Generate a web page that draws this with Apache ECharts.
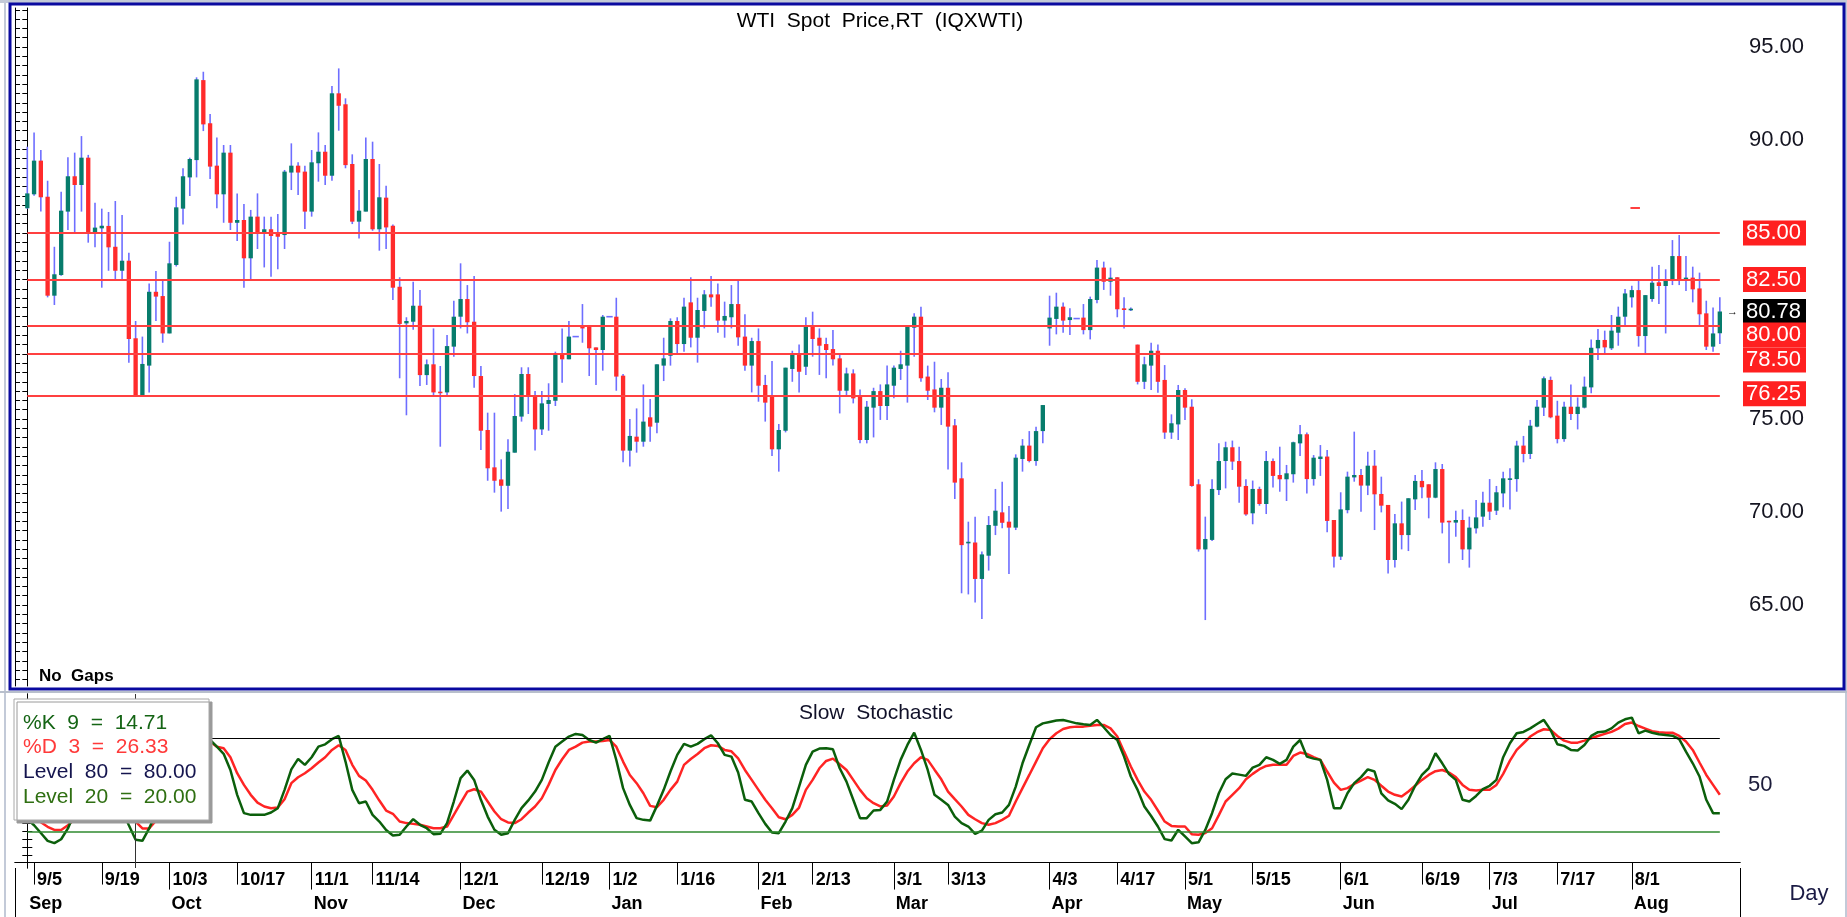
<!DOCTYPE html>
<html>
<head>
<meta charset="utf-8">
<title>WTI Spot Price,RT (IQXWTI)</title>
<script src="https://cdn.jsdelivr.net/npm/echarts@6/dist/echarts.min.js"></script>
<style>
html, body { margin: 0; padding: 0; background: #fff; }
#chart { width: 1847px; height: 917px; }
</style>
</head>
<body>
<div id="chart"></div>
<script>
// one candle per weekday, 2 Sep 2022 .. 18 Aug 2023 (index 0..250)
const openP = [
  86.33, 87.08, 88.89, 86.95, 81.63, 82.74, 86.15, 88.05, 87.58, 89.05,
  85.05, 85.25, 85.38, 84.26, 82.97, 83.51, 79.34, 76.24, 77.87, 81.84,
  81.61, 79.60, 83.28, 86.31, 87.99, 88.92, 93.22, 90.90, 88.62, 87.08,
  89.32, 85.55, 85.70, 83.64, 85.88, 85.05, 85.20, 84.98, 84.89, 88.25,
  88.62, 88.30, 86.15, 88.75, 89.37, 88.08, 92.51, 91.92, 88.71, 85.61,
  86.15, 88.98, 85.20, 86.90, 85.39, 82.11, 80.14, 80.23, 81.09, 77.36,
  77.94, 76.47, 76.43, 78.89, 80.50, 81.45, 80.23, 77.31, 74.41, 72.40,
  71.75, 71.41, 73.19, 75.13, 77.42, 76.29, 74.44, 75.81, 75.98, 78.44,
  78.21, 79.43, 79.96, 79.96, 78.85, 78.71, 80.50, 80.50, 77.33, 73.30,
  74.05, 73.78, 75.09, 74.80, 77.87, 78.40, 80.27, 79.03, 81.27, 79.37,
  80.81, 81.70, 81.70, 80.29, 80.47, 81.18, 79.43, 77.87, 79.19, 76.83,
  76.20, 73.37, 74.37, 77.69, 78.48, 77.81, 79.96, 79.37, 79.03, 78.76,
  78.26, 76.52, 77.45, 76.20, 73.87, 75.61, 76.50, 75.70, 76.79, 77.69,
  77.87, 79.91, 80.50, 77.28, 76.59, 75.61, 76.68, 74.66, 71.81, 68.36,
  68.36, 66.40, 67.65, 69.26, 69.98, 69.48, 69.16, 72.85, 73.57, 72.74,
  74.35, 79.87, 80.38, 81.04, 80.32, 80.40, 80.45, 79.78, 81.40, 83.14,
  82.38, 82.62, 80.95, 80.88, 79.00, 77.00, 77.87, 78.67, 77.10, 74.27,
  74.71, 76.56, 75.66, 71.49, 67.99, 68.50, 71.18, 72.74, 73.48, 72.74,
  71.40, 69.93, 71.24, 70.43, 72.74, 71.99, 71.76, 72.03, 73.69, 74.18,
  71.77, 72.85, 72.98, 69.57, 67.60, 70.10, 71.86, 71.99, 71.42, 72.49,
  70.97, 70.38, 67.42, 69.39, 68.76, 70.68, 71.67, 71.49, 70.77, 72.31,
  69.53, 69.43, 69.57, 67.99, 69.12, 69.75, 70.50, 70.07, 71.00, 71.76,
  71.77, 73.57, 73.12, 74.59, 75.61, 77.10, 75.18, 73.92, 75.66, 75.27,
  75.61, 76.70, 78.80, 79.25, 78.80, 79.64, 80.50, 81.54, 81.93, 79.46,
  81.45, 82.35, 82.15, 82.51, 83.76, 82.53, 82.60, 82.02, 80.68, 78.89,
  79.61
];
const closeP = [
  87.13, 88.89, 86.92, 81.63, 82.78, 86.20, 88.05, 87.58, 89.05, 85.02,
  85.29, 85.39, 84.23, 82.97, 83.51, 79.30, 76.24, 77.96, 81.84, 81.58,
  79.60, 83.37, 86.38, 88.05, 88.98, 93.26, 90.84, 88.57, 87.08, 89.32,
  85.55, 85.70, 83.64, 85.88, 85.02, 85.20, 84.84, 84.80, 88.30, 88.62,
  88.25, 86.15, 88.80, 89.37, 88.08, 92.51, 91.84, 88.65, 85.61, 86.20,
  88.98, 85.20, 86.92, 85.30, 82.06, 80.11, 80.27, 81.09, 77.36, 77.94,
  76.43, 76.40, 78.92, 80.50, 81.45, 80.20, 77.31, 74.37, 72.35, 71.68,
  71.41, 73.24, 75.16, 77.42, 76.29, 74.44, 75.84, 76.02, 78.44, 78.21,
  79.43, 79.43, 79.87, 78.80, 78.71, 80.50, 80.50, 77.28, 73.30, 74.09,
  73.78, 74.86, 74.59, 77.94, 78.26, 80.27, 79.03, 81.04, 79.37, 80.86,
  81.70, 81.54, 80.29, 80.54, 81.18, 79.39, 77.87, 79.19, 76.79, 75.88,
  73.37, 74.41, 77.76, 78.48, 77.54, 79.96, 79.30, 78.94, 78.71, 78.21,
  76.52, 77.45, 76.11, 73.87, 75.66, 76.50, 75.70, 76.86, 77.76, 77.94,
  79.96, 80.50, 77.19, 76.52, 75.61, 76.68, 74.59, 71.58, 68.22, 68.40,
  66.40, 67.72, 69.30, 70.07, 69.42, 69.16, 72.92, 73.57, 72.74, 74.35,
  75.75, 80.45, 81.04, 80.29, 80.47, 80.40, 79.78, 81.45, 83.14, 82.38,
  82.60, 80.90, 80.86, 80.93, 77.00, 77.94, 78.67, 77.00, 74.27, 74.77,
  76.56, 75.61, 71.40, 67.99, 68.55, 71.24, 72.74, 73.48, 72.71, 71.36,
  69.87, 71.24, 70.43, 72.74, 71.94, 71.76, 72.08, 73.75, 74.18, 71.77,
  72.92, 72.98, 69.52, 67.60, 70.14, 71.90, 71.99, 71.42, 72.49, 70.95,
  70.34, 67.42, 69.39, 68.76, 70.74, 71.67, 71.33, 70.77, 72.31, 69.43,
  69.45, 69.57, 67.99, 69.16, 69.71, 70.50, 70.02, 71.06, 71.81, 71.81,
  73.57, 73.12, 74.64, 75.66, 77.19, 75.09, 73.92, 75.66, 75.27, 75.66,
  76.74, 78.83, 79.25, 78.85, 79.75, 80.50, 81.75, 81.93, 79.46, 81.66,
  82.33, 82.15, 82.51, 83.76, 82.51, 82.60, 81.97, 80.63, 78.89, 79.60,
  80.78
];
const lowP = [
  86.30, 87.00, 86.15, 81.54, 81.13, 82.70, 85.16, 85.02, 86.15, 84.48,
  84.23, 82.06, 82.97, 82.51, 82.44, 78.03, 76.20, 76.20, 76.43, 80.27,
  79.10, 79.60, 83.20, 85.46, 86.99, 87.99, 90.48, 87.90, 86.33, 85.55,
  85.16, 84.57, 82.06, 82.51, 84.14, 83.15, 82.65, 83.05, 84.14, 87.31,
  87.04, 85.21, 85.88, 87.76, 87.58, 87.81, 90.50, 88.48, 85.48, 84.71,
  86.15, 85.12, 84.05, 84.14, 81.40, 77.19, 75.20, 79.80, 76.77, 76.83,
  76.29, 73.51, 76.29, 78.35, 79.87, 79.60, 76.68, 73.33, 71.68, 71.04,
  70.02, 70.16, 73.19, 74.86, 75.27, 73.30, 74.14, 74.37, 75.70, 76.95,
  78.21, 79.43, 79.10, 77.31, 76.83, 77.60, 80.50, 76.52, 72.67, 72.44,
  73.19, 73.51, 73.78, 74.23, 77.04, 77.87, 78.50, 78.62, 78.85, 78.03,
  79.87, 81.04, 79.64, 79.37, 79.87, 78.94, 77.60, 76.43, 75.93, 74.86,
  73.01, 72.17, 74.28, 77.00, 76.43, 77.37, 78.35, 77.37, 77.19, 77.87,
  75.30, 76.24, 75.84, 73.69, 73.69, 74.01, 74.95, 74.95, 76.11, 77.10,
  75.88, 78.35, 77.00, 76.02, 75.36, 74.68, 72.29, 70.70, 65.63, 65.57,
  65.14, 64.25, 66.85, 68.76, 69.12, 66.67, 69.03, 72.17, 72.67, 72.49,
  73.69, 78.94, 79.55, 79.64, 79.52, 80.40, 79.55, 79.28, 81.22, 81.94,
  81.63, 80.47, 79.87, 80.80, 76.86, 76.61, 76.56, 76.41, 73.93, 73.93,
  73.87, 74.95, 71.36, 67.87, 64.19, 68.44, 70.91, 71.27, 72.26, 70.50,
  69.80, 69.34, 70.34, 69.89, 71.32, 71.09, 70.59, 71.58, 73.01, 71.00,
  71.42, 71.94, 68.91, 67.01, 67.42, 69.93, 71.63, 70.02, 70.91, 69.03,
  69.98, 66.70, 67.01, 67.99, 67.90, 70.11, 70.74, 69.66, 70.74, 68.85,
  67.24, 68.67, 67.42, 67.01, 68.85, 69.21, 69.57, 69.84, 70.25, 70.14,
  71.09, 72.67, 72.85, 74.55, 75.16, 75.04, 73.69, 73.78, 74.95, 74.44,
  75.57, 76.38, 78.17, 78.49, 78.71, 78.94, 80.02, 80.99, 78.89, 78.49,
  81.31, 81.18, 79.60, 82.20, 82.20, 81.88, 81.27, 80.02, 78.71, 78.62,
  79.03
];
const highP = [
  89.64, 90.41, 89.46, 87.81, 84.26, 87.22, 89.07, 89.32, 90.21, 89.20,
  86.63, 86.31, 86.13, 86.72, 85.97, 83.94, 80.27, 79.43, 82.29, 82.96,
  82.51, 84.53, 86.95, 88.48, 89.05, 93.37, 93.67, 91.40, 90.14, 89.73,
  89.73, 87.13, 86.56, 86.24, 87.13, 85.88, 85.88, 86.02, 88.39, 89.82,
  88.80, 88.62, 89.46, 90.41, 89.73, 92.90, 93.85, 92.24, 89.23, 87.31,
  90.14, 89.91, 88.71, 87.54, 85.46, 82.62, 80.47, 82.38, 81.93, 78.20,
  79.87, 77.85, 79.51, 81.36, 83.37, 82.20, 82.69, 77.85, 75.34, 75.34,
  72.83, 73.91, 76.34, 77.78, 77.78, 76.50, 76.50, 76.92, 78.62, 79.87,
  80.27, 79.43, 81.18, 79.96, 78.85, 80.59, 80.50, 81.52, 77.42, 75.00,
  75.57, 76.86, 76.07, 77.94, 79.37, 80.41, 80.47, 81.52, 82.62, 81.52,
  81.93, 82.69, 82.29, 81.31, 82.20, 82.47, 80.63, 79.37, 79.87, 77.37,
  78.12, 74.73, 77.76, 78.67, 79.01, 80.47, 80.77, 79.87, 79.37, 79.78,
  78.44, 77.76, 77.67, 76.59, 75.97, 76.68, 76.86, 77.87, 77.87, 78.67,
  79.96, 80.68, 81.04, 77.87, 78.08, 77.15, 77.51, 75.00, 72.67, 69.48,
  69.75, 67.87, 69.78, 71.24, 71.63, 70.32, 73.10, 73.92, 74.35, 74.59,
  75.75, 81.63, 81.79, 81.27, 80.95, 80.40, 81.18, 81.58, 83.55, 83.46,
  83.14, 82.62, 81.54, 81.00, 79.00, 78.35, 79.10, 79.01, 77.90, 75.25,
  76.83, 76.65, 76.06, 71.76, 69.75, 71.76, 73.69, 73.78, 73.84, 73.51,
  71.76, 71.69, 71.36, 73.28, 72.88, 73.51, 72.53, 73.78, 74.68, 74.27,
  73.06, 73.60, 73.33, 69.57, 71.06, 72.17, 74.32, 72.31, 73.24, 73.33,
  71.90, 70.38, 69.89, 70.56, 70.74, 71.99, 72.26, 71.49, 72.67, 72.58,
  69.53, 70.07, 70.14, 69.75, 70.64, 71.09, 71.77, 71.40, 72.17, 72.35,
  73.83, 74.09, 74.95, 76.02, 77.28, 77.28, 75.98, 75.93, 76.86, 76.16,
  77.28, 79.28, 79.84, 79.75, 80.59, 81.04, 81.99, 82.17, 82.47, 81.66,
  83.19, 83.28, 83.05, 84.62, 84.89, 83.76, 83.19, 82.87, 81.36, 81.00,
  81.54
];

// slow stochastic
const stochK = [
  28, 24, 19, 14, 12.5, 15, 22, 32, 42, 50,
  55, 52, 45, 40, 34, 24, 14.71, 14, 22, 32,
  46, 58, 68, 76, 80, 83, 82, 78.9, 74.6, 70,
  59.6, 43.6, 31.8, 30.7, 30.7, 30.7, 32.2, 35, 46.8, 60,
  66.7, 62.9, 67.8, 74.6, 76.1, 79.4, 81.5, 65, 46.8, 38.2,
  39.3, 30.7, 26.4, 21, 17.4, 17.9, 23.2, 27.9, 24.3, 22.1,
  18.3, 18.5, 25.4, 39.3, 54.3, 59.2, 53.2, 40.4, 29.6, 21.1,
  17.9, 18.9, 27.5, 35, 40, 45.7, 53.2, 64.4, 74.6, 77.9,
  81.1, 82.8, 82.1, 78.9, 77.2, 79.5, 81.5, 66, 47.9, 37.1,
  28.6, 27.5, 27, 36.5, 46.8, 58.6, 69.3, 76.4, 74.6, 76.4,
  79.4, 81.9, 76.8, 69.3, 68.2, 58, 40.4, 39.3, 31.8, 24.9,
  19.4, 18.9, 26.4, 35, 48.9, 62.9, 71.4, 73.4, 73.6, 72.9,
  60.7, 52.1, 40.4, 28.6, 28.6, 33.5, 33.9, 39.3, 53.2, 66.1,
  75.7, 83.6, 72.5, 59.6, 43.6, 40.4, 37.1, 29.6, 25.4, 23.2,
  18.5, 20.6, 27.5, 31.1, 32.2, 37.1, 48.9, 63.9, 75.7, 87.1,
  89.6, 90.5, 91.4, 91.8, 90.7, 89.6, 89, 88.6, 91.8, 87.1,
  82.1, 78.9, 68.2, 55.4, 46.8, 36.1, 30, 23.2, 15.1, 14.2,
  21.1, 16.8, 12.5, 13, 21, 31.8, 44.6, 53.6, 57.3, 56.6,
  55.8, 61.1, 62.9, 67.8, 66.1, 63.5, 66.1, 74.6, 78.9, 68.2,
  66.9, 66.1, 53.2, 35, 35, 44.6, 51.1, 55, 60, 58.6,
  44.6, 40, 37.8, 34.4, 40.4, 49.4, 56.4, 60.7, 70.4, 63.9,
  56.9, 53.2, 40.4, 39.3, 42.9, 47.2, 49.4, 53.2, 67.8, 76.8,
  83.2, 84.1, 86.4, 89.2, 91.8, 85.4, 76.1, 75.1, 72.5, 72.1,
  75.7, 81.5, 83.9, 84.3, 86.4, 90.1, 92.2, 93.3, 83.2, 84.9,
  83.6, 82.6, 82.1, 81.7, 79.4, 71.4, 63.9, 55.4, 40.4, 31.8,
  31.8
];
const stochD = [
  32, 29, 26, 23, 21, 21, 24, 28, 35, 42,
  49, 52, 50, 46, 40, 32, 26.33, 22, 22, 27,
  35, 46, 58, 68, 75, 80, 82, 77.9, 74.6, 73.6,
  67.8, 57.5, 50, 43.6, 38.6, 36.1, 35, 35.4, 40.8, 51.1,
  54.9, 57.5, 60.7, 64.4, 67.8, 72.5, 75.5, 72.5, 62.9, 55.8,
  52.8, 46.8, 39.9, 33.5, 31.4, 26.4, 25.4, 24.9, 24.3, 23.2,
  22.1, 22.1, 23.2, 30.7, 38.2, 45.7, 47.2, 45.7, 39.3, 32.9,
  27.9, 25.8, 25.4, 27.9, 32.2, 36.1, 41.4, 50, 59.6, 66.5,
  72.5, 74.6, 77.2, 77.9, 77.9, 78.3, 78.9, 74.6, 65, 56.4,
  51.1, 44.6, 36.5, 35.6, 40.4, 46.8, 52.1, 62.9, 66.7, 69.9,
  73.6, 75.5, 75.1, 72.5, 71.6, 67.1, 59.6, 53.2, 46.8, 40.4,
  35, 29.2, 27.9, 30.7, 35.4, 46.8, 53.2, 60.7, 65.4, 66.9,
  63.3, 59.6, 53.2, 46.8, 41.4, 38.2, 36.1, 36.7, 42.5, 51.1,
  58.6, 63.9, 67.8, 66.1, 59.8, 53.6, 45.7, 40.8, 36.1, 30.7,
  27.9, 25.4, 24.3, 25.4, 27.5, 30.1, 39.3, 47.9, 56.4, 65,
  73.6, 79.4, 83.2, 86, 87.1, 87.5, 87.5, 88.1, 88.6, 88.6,
  86.4, 81.1, 71.4, 61.8, 53.2, 45.7, 40.4, 33.5, 26.4, 23.6,
  23.2, 23.2, 18.3, 17.9, 19, 22.1, 30.5, 39.3, 43.6, 47.9,
  53.6, 57.1, 60.1, 62.2, 62.9, 62.9, 62.9, 68.6, 70.8, 69.9,
  67.8, 66.1, 58.6, 51.5, 46.8, 47.9, 50.6, 52.8, 55, 53.2,
  49.4, 45.7, 43.6, 42.5, 45.7, 49.4, 53.2, 56.4, 58.8, 59.6,
  57.9, 55, 50, 46.8, 46.4, 46.8, 46.8, 50, 57.1, 65.6,
  72.5, 76.8, 81.1, 83.9, 85.8, 85.4, 81.5, 78.5, 77.2, 77.2,
  78.5, 80, 81.5, 82.8, 84.1, 86.2, 89.2, 90.1, 87.9, 86.2,
  84.5, 83.9, 83.6, 83.6, 81.5, 77.9, 72.5, 64.4, 56.4, 50,
  43.6
];

// price levels drawn across the chart
const priceLevels = [85, 82.5, 80, 78.5, 76.25];
const lastPrice = 80.78;
const alertLevel = 86.36;
const alertSpan = [236.8, 238.2];
const stochLevels = [80, 20];
const cursorIndex = 16;

// x axis labels (candle index -> text)
const dateTicks = [1, 11, 21, 31, 42, 51, 64, 76, 86, 96, 108, 116, 128, 136, 151, 161, 171, 181, 194, 206, 216, 226, 237];
const dateLabels = ['9/5', '9/19', '10/3', '10/17', '11/1', '11/14', '12/1', '12/19', '1/2', '1/16', '2/1', '2/13', '3/1', '3/13', '4/3', '4/17', '5/1', '5/15', '6/1', '6/19', '7/3', '7/17', '8/1'];
const monthTicks = [0, 21, 42, 64, 86, 108, 128, 151, 171, 194, 216, 237];
const monthLabels = ['Sep', 'Oct', 'Nov', 'Dec', 'Jan', 'Feb', 'Mar', 'Apr', 'May', 'Jun', 'Jul', 'Aug'];
const priceTicks = [65, 70, 75, 90, 95];

const FONT = "'Liberation Sans', Arial, sans-serif";
const UP = '#077c6c', DOWN = '#ff2b2b', WICK = '#6e6eff';
const X_MIN = -1.817, X_MAX = 252.98;

var n = Math.min(openP.length, closeP.length, lowP.length, highP.length);
var candles = [];
for (var i = 0; i < n; i++) candles.push([i, openP[i], closeP[i], lowP[i], highP[i]]);
var kData = stochK.map(function (v, i) { return [i, v]; });
var dData = stochD.map(function (v, i) { return [i, v]; });

var minorPrice = [];
for (var t = 61; t <= 97; t += 0.5) minorPrice.push(t);
var stochTicks = [];
for (var s = 0; s <= 105; s += 5) stochTicks.push(s);

function drawCandle(params, api) {
  var i = api.value(0), o = api.value(1), c = api.value(2), l = api.value(3), h = api.value(4);
  var pO = api.coord([i, o]), pC = api.coord([i, c]);
  var yL = api.coord([i, l])[1], yH = api.coord([i, h])[1];
  var x = pO[0];
  var bw = api.size([1, 0])[0] * 0.64;
  if (h === l) {
    return { type: 'rect', shape: { x: x - bw / 2 - 1, y: pO[1] - 0.8, width: bw + 2, height: 1.6 }, style: { fill: WICK } };
  }
  var top = Math.min(pO[1], pC[1]);
  var hgt = Math.max(Math.abs(pO[1] - pC[1]), 1.6);
  return {
    type: 'group',
    children: [
      { type: 'line', shape: { x1: x, y1: yH, x2: x, y2: yL }, style: { stroke: WICK, lineWidth: 1.6 } },
      { type: 'rect', shape: { x: x - bw / 2, y: top, width: bw, height: hgt }, style: { fill: c >= o ? UP : DOWN } }
    ]
  };
}

var levelLines = priceLevels.map(function (v) {
  return [{ coord: [0, v] }, { coord: [n - 1, v] }];
});
levelLines.push([{ coord: [alertSpan[0], alertLevel] }, { coord: [alertSpan[1], alertLevel] }]);

var chart = echarts.init(document.getElementById('chart'));
chart.setOption({
  animation: false,
  backgroundColor: '#ffffff',
  textStyle: { fontFamily: FONT },
  grid: [
    { left: 15, right: 107, top: 8, height: 678 },
    { left: 15, right: 107, top: 694, height: 174 }
  ],
  xAxis: [
    { type: 'value', gridIndex: 0, min: X_MIN, max: X_MAX, show: false },
    {
      type: 'value', gridIndex: 1, min: X_MIN, max: X_MAX, position: 'bottom',
      splitLine: { show: false },
      axisLine: { show: true, lineStyle: { color: '#000', width: 1 } },
      axisTick: { show: true, customValues: dateTicks, length: 22, lineStyle: { color: '#000', width: 1 } },
      axisLabel: {
        customValues: dateTicks, margin: 3, align: 'left', padding: [0, 0, 0, 3],
        fontSize: 18, fontWeight: 'bold', color: '#000', fontFamily: FONT,
        formatter: function (v) { var k = dateTicks.indexOf(Math.round(v)); return k >= 0 ? dateLabels[k] : ''; }
      }
    },
    {
      type: 'value', gridIndex: 1, min: X_MIN, max: X_MAX, position: 'bottom', offset: 22,
      splitLine: { show: false },
      axisLine: { show: true, lineStyle: { color: '#000', width: 1 } },
      axisTick: { show: true, customValues: monthTicks.slice(1), length: 27, lineStyle: { color: '#000', width: 1 } },
      axisLabel: {
        customValues: monthTicks, margin: 5, align: 'left', padding: [0, 0, 0, 2],
        fontSize: 18, fontWeight: 'bold', color: '#000', fontFamily: FONT,
        formatter: function (v) { var k = monthTicks.indexOf(Math.round(v)); return k >= 0 ? monthLabels[k] : ''; }
      }
    }
  ],
  yAxis: [
    {
      type: 'value', gridIndex: 0, position: 'right', min: 60.645, max: 97.097,
      splitLine: { show: false },
      axisLine: { show: true, lineStyle: { color: '#000', width: 1 } },
      axisTick: { show: true, inside: true, length: 5, customValues: minorPrice, lineStyle: { color: '#000' } },
      axisLabel: {
        customValues: priceTicks, margin: 9, fontSize: 22, color: '#141420', fontFamily: FONT,
        formatter: function (v) { return v.toFixed(2); }
      }
    },
    {
      type: 'value', gridIndex: 0, position: 'left', min: 60.645, max: 97.097,
      splitLine: { show: false },
      axisLine: { show: true, lineStyle: { color: '#000', width: 1 } },
      axisTick: { show: true, inside: true, length: 5, customValues: minorPrice, lineStyle: { color: '#000' } },
      axisLabel: { show: false }
    },
    {
      type: 'value', gridIndex: 1, position: 'right', min: -3.5, max: 108.5,
      splitLine: { show: false },
      axisLine: { show: true, lineStyle: { color: '#000', width: 1 } },
      axisTick: { show: true, inside: true, length: 5, customValues: stochTicks, lineStyle: { color: '#000' } },
      axisLabel: { customValues: [50], margin: 8, fontSize: 22, color: '#1c1c3a', fontFamily: FONT }
    },
    {
      type: 'value', gridIndex: 1, position: 'left', min: -3.5, max: 108.5,
      splitLine: { show: false },
      axisLine: { show: true, lineStyle: { color: '#000', width: 1 } },
      axisTick: { show: true, inside: true, length: 5, customValues: stochTicks, lineStyle: { color: '#000' } },
      axisLabel: { show: false }
    }
  ],
  series: [
    {
      name: 'WTI', type: 'custom', xAxisIndex: 0, yAxisIndex: 0,
      renderItem: drawCandle, clip: true,
      dimensions: ['i', 'open', 'close', 'low', 'high'],
      encode: { x: 0, y: [1, 2, 3, 4] },
      data: candles,
      markLine: {
        silent: true, symbol: 'none', label: { show: false },
        lineStyle: { color: '#ff4040', width: 2, type: 'solid' },
        data: levelLines
      },
      z: 3
    },
    {
      name: '%K', type: 'line', xAxisIndex: 1, yAxisIndex: 2,
      data: kData, showSymbol: false,
      lineStyle: { color: '#0b5f0b', width: 2.5 },
      markLine: {
        silent: true, symbol: 'none', label: { show: false },
        lineStyle: { color: '#333', width: 1, type: 'solid' },
        data: [{ xAxis: cursorIndex }]
      },
      z: 4
    },
    {
      name: '%D', type: 'line', xAxisIndex: 1, yAxisIndex: 2,
      data: dData, showSymbol: false,
      lineStyle: { color: '#ff2424', width: 2.5 },
      markLine: {
        silent: true, symbol: 'none', label: { show: false },
        data: [
          [{ coord: [0, stochLevels[0]], lineStyle: { color: '#000', width: 1.2, type: 'solid' } }, { coord: [n - 1, stochLevels[0]] }],
          [{ coord: [0, stochLevels[1]], lineStyle: { color: '#2f8a2f', width: 1.5, type: 'solid' } }, { coord: [n - 1, stochLevels[1]] }]
        ]
      },
      z: 3
    }
  ]
});

// price tags on the right axis, placed through the axis scale
var tags = [
  { v: 85, text: '85.00', bg: '#ff2020', dy: 0 },
  { v: 82.5, text: '82.50', bg: '#ff2020', dy: 0 },
  { v: lastPrice, text: lastPrice.toFixed(2), bg: '#000000', dy: 0 },
  { v: 80, text: '80.00', bg: '#ff2020', dy: 9 },
  { v: 78.5, text: '78.50', bg: '#ff2020', dy: 6 },
  { v: 76.25, text: '76.25', bg: '#ff2020', dy: -2 }
];
var g = [];
tags.forEach(function (tg) {
  var py = chart.convertToPixel({ yAxisIndex: 0 }, tg.v) + tg.dy;
  g.push({ type: 'rect', z: 50, shape: { x: 1743, y: py - 12.5, width: 63, height: 25 }, style: { fill: tg.bg } });
  g.push({ type: 'text', z: 51, x: 1746, y: py, style: { text: tg.text, fill: '#ffffff', font: '22px ' + FONT, textVerticalAlign: 'middle' } });
});
var pyLast = chart.convertToPixel({ yAxisIndex: 0 }, lastPrice);
g.push({ type: 'text', z: 51, x: 1727, y: pyLast, style: { text: '\u2192', fill: '#000', font: '11px ' + FONT, textVerticalAlign: 'middle' } });

// window frame
g.push({ type: 'rect', z: 40, shape: { x: 0, y: 0, width: 1847, height: 3 }, style: { fill: '#c3cad8' } });
g.push({ type: 'rect', z: 40, shape: { x: 4, y: 0, width: 2, height: 917 }, style: { fill: '#c3cad8' } });
g.push({ type: 'rect', z: 40, shape: { x: 1845, y: 0, width: 2, height: 917 }, style: { fill: '#c3cad8' } });
g.push({ type: 'rect', z: 41, shape: { x: 10, y: 4, width: 1834, height: 685 }, style: { fill: 'none', stroke: '#0a0aa0', lineWidth: 3 } });
g.push({ type: 'rect', z: 40, shape: { x: 0, y: 691, width: 1847, height: 2 }, style: { fill: '#b8bfcc' } });
g.push({ type: 'line', z: 40, shape: { x1: 15.5, y1: 868, x2: 15.5, y2: 917 }, style: { stroke: '#000', lineWidth: 1 } });
g.push({ type: 'line', z: 40, shape: { x1: 1740.5, y1: 868, x2: 1740.5, y2: 917 }, style: { stroke: '#000', lineWidth: 1 } });

// titles and notes
g.push({ type: 'text', z: 30, x: 880, y: 21, style: { text: 'WTI  Spot  Price,RT  (IQXWTI)', fill: '#000', font: '21px ' + FONT, textAlign: 'center', textVerticalAlign: 'middle' } });
g.push({ type: 'text', z: 30, x: 876, y: 713, style: { text: 'Slow  Stochastic', fill: '#101028', font: '21px ' + FONT, textAlign: 'center', textVerticalAlign: 'middle' } });
g.push({ type: 'text', z: 30, x: 39, y: 676, style: { text: 'No  Gaps', fill: '#000', font: 'bold 17px ' + FONT, textVerticalAlign: 'middle' } });
g.push({ type: 'text', z: 30, x: 1809, y: 894, style: { text: 'Day', fill: '#1a1a44', font: '22px ' + FONT, textAlign: 'center', textVerticalAlign: 'middle' } });

// stochastic legend box
g.push({ type: 'rect', z: 60, shape: { x: 14, y: 699, width: 195, height: 121 }, style: { fill: '#fff', stroke: '#a8a8a8', lineWidth: 1, shadowColor: '#9a9a9a', shadowOffsetX: 3, shadowOffsetY: 3, shadowBlur: 0 } });
var legendRows = [
  ['%K  9  =  14.71', '#146414'],
  ['%D  3  =  26.33', '#ff3a3a'],
  ['Level  80  =  80.00', '#14144e'],
  ['Level  20  =  20.00', '#2f6f12']
];
legendRows.forEach(function (r, k) {
  g.push({ type: 'text', z: 61, x: 23, y: 723 + k * 24.7, style: { text: r[0], fill: r[1], font: '21px ' + FONT, textVerticalAlign: 'middle' } });
});

chart.setOption({ graphic: g });
</script>
</body>
</html>
